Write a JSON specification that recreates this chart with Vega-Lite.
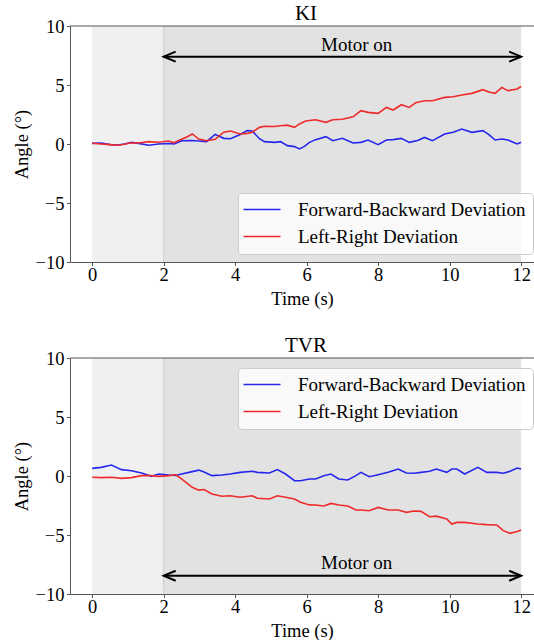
{
  "$schema": "https://vega.github.io/schema/vega-lite/v6.json",
  "background": "white",
  "padding": {"left": 12, "top": 3, "right": 0, "bottom": 0},
  "spacing": 96,
  "bounds": "flush",
  "config": {
    "font": "Liberation Serif",
    "view": {"stroke": null},
    "axis": {
      "grid": false,
      "labelFont": "Liberation Serif",
      "labelFontSize": 18.5,
      "labelColor": "black",
      "titleFont": "Liberation Serif",
      "titleFontSize": 18.5,
      "titleFontWeight": "normal",
      "titleColor": "black",
      "domainColor": "#555555",
      "tickColor": "#555555",
      "tickSize": 3.5
    },
    "legend": {
      "orient": "none",
      "title": null,
      "symbolType": "M-2.2,0H5.2",
      "symbolSize": 100,
      "symbolStrokeWidth": 1.6,
      "symbolFillColor": "transparent",
      "labelFont": "Liberation Serif",
      "labelFontSize": 19,
      "labelColor": "black",
      "labelOffset": 34,
      "labelLimit": 400,
      "rowPadding": 7,
      "padding": 7,
      "fillColor": "rgba(255,255,255,0.8)",
      "strokeColor": "#cccccc",
      "cornerRadius": 4
    },
    "title": {"font": "Liberation Serif", "fontSize": 21, "fontWeight": "normal", "color": "black", "anchor": "middle", "frame": "group", "baseline": "alphabetic", "offset": -7, "dx": 4}
  },
  "datasets": {
    "shadeLight": [{"t": 0, "t2": 2, "v": -10, "v2": 10}],
    "shadeDark": [{"t": 2, "t2": 12, "v": -10, "v2": 10}],
    "spine": [{"t": -0.62, "t2": 12.36, "v": 10}],
    "ki": [
      {"t": 0, "s": "Forward-Backward Deviation", "v": 0.05},
      {"t": 0.25, "s": "Forward-Backward Deviation", "v": 0.08},
      {"t": 0.5, "s": "Forward-Backward Deviation", "v": -0.05},
      {"t": 0.73, "s": "Forward-Backward Deviation", "v": -0.08},
      {"t": 0.9, "s": "Forward-Backward Deviation", "v": 0.0},
      {"t": 1.1, "s": "Forward-Backward Deviation", "v": 0.14},
      {"t": 1.3, "s": "Forward-Backward Deviation", "v": 0.05},
      {"t": 1.58, "s": "Forward-Backward Deviation", "v": -0.1},
      {"t": 1.86, "s": "Forward-Backward Deviation", "v": 0.0},
      {"t": 2.14, "s": "Forward-Backward Deviation", "v": 0.04},
      {"t": 2.3, "s": "Forward-Backward Deviation", "v": 0.0},
      {"t": 2.5, "s": "Forward-Backward Deviation", "v": 0.28},
      {"t": 2.8, "s": "Forward-Backward Deviation", "v": 0.3},
      {"t": 2.98, "s": "Forward-Backward Deviation", "v": 0.25},
      {"t": 3.2, "s": "Forward-Backward Deviation", "v": 0.2},
      {"t": 3.44, "s": "Forward-Backward Deviation", "v": 0.82},
      {"t": 3.68, "s": "Forward-Backward Deviation", "v": 0.48},
      {"t": 3.87, "s": "Forward-Backward Deviation", "v": 0.45},
      {"t": 4.14, "s": "Forward-Backward Deviation", "v": 0.8},
      {"t": 4.34, "s": "Forward-Backward Deviation", "v": 1.13},
      {"t": 4.48, "s": "Forward-Backward Deviation", "v": 1.1},
      {"t": 4.68, "s": "Forward-Backward Deviation", "v": 0.45},
      {"t": 4.82, "s": "Forward-Backward Deviation", "v": 0.2},
      {"t": 5.1, "s": "Forward-Backward Deviation", "v": 0.14},
      {"t": 5.27, "s": "Forward-Backward Deviation", "v": 0.2},
      {"t": 5.46, "s": "Forward-Backward Deviation", "v": -0.14},
      {"t": 5.66, "s": "Forward-Backward Deviation", "v": -0.22},
      {"t": 5.8, "s": "Forward-Backward Deviation", "v": -0.42},
      {"t": 5.94, "s": "Forward-Backward Deviation", "v": -0.2},
      {"t": 6.08, "s": "Forward-Backward Deviation", "v": 0.14},
      {"t": 6.25, "s": "Forward-Backward Deviation", "v": 0.37},
      {"t": 6.54, "s": "Forward-Backward Deviation", "v": 0.62},
      {"t": 6.73, "s": "Forward-Backward Deviation", "v": 0.28},
      {"t": 7.0, "s": "Forward-Backward Deviation", "v": 0.48},
      {"t": 7.3, "s": "Forward-Backward Deviation", "v": 0.08},
      {"t": 7.52, "s": "Forward-Backward Deviation", "v": 0.14},
      {"t": 7.72, "s": "Forward-Backward Deviation", "v": 0.34},
      {"t": 8.0, "s": "Forward-Backward Deviation", "v": -0.06},
      {"t": 8.23, "s": "Forward-Backward Deviation", "v": 0.34},
      {"t": 8.42, "s": "Forward-Backward Deviation", "v": 0.37},
      {"t": 8.65, "s": "Forward-Backward Deviation", "v": 0.48},
      {"t": 8.87, "s": "Forward-Backward Deviation", "v": 0.14},
      {"t": 9.1, "s": "Forward-Backward Deviation", "v": 0.3},
      {"t": 9.3, "s": "Forward-Backward Deviation", "v": 0.56},
      {"t": 9.52, "s": "Forward-Backward Deviation", "v": 0.28},
      {"t": 9.86, "s": "Forward-Backward Deviation", "v": 0.85},
      {"t": 10.1, "s": "Forward-Backward Deviation", "v": 1.0},
      {"t": 10.34, "s": "Forward-Backward Deviation", "v": 1.27},
      {"t": 10.62, "s": "Forward-Backward Deviation", "v": 0.99},
      {"t": 10.93, "s": "Forward-Backward Deviation", "v": 1.13},
      {"t": 11.1, "s": "Forward-Backward Deviation", "v": 0.8},
      {"t": 11.27, "s": "Forward-Backward Deviation", "v": 0.34},
      {"t": 11.46, "s": "Forward-Backward Deviation", "v": 0.42},
      {"t": 11.63, "s": "Forward-Backward Deviation", "v": 0.34},
      {"t": 11.89, "s": "Forward-Backward Deviation", "v": 0.0},
      {"t": 12, "s": "Forward-Backward Deviation", "v": 0.14},
      {"t": 0, "s": "Left-Right Deviation", "v": 0.06},
      {"t": 0.25, "s": "Left-Right Deviation", "v": 0.0},
      {"t": 0.5, "s": "Left-Right Deviation", "v": -0.05},
      {"t": 0.73, "s": "Left-Right Deviation", "v": -0.1},
      {"t": 0.9, "s": "Left-Right Deviation", "v": -0.02},
      {"t": 1.1, "s": "Left-Right Deviation", "v": 0.1},
      {"t": 1.3, "s": "Left-Right Deviation", "v": 0.08},
      {"t": 1.58, "s": "Left-Right Deviation", "v": 0.2},
      {"t": 1.86, "s": "Left-Right Deviation", "v": 0.15},
      {"t": 2.14, "s": "Left-Right Deviation", "v": 0.25},
      {"t": 2.28, "s": "Left-Right Deviation", "v": 0.1},
      {"t": 2.5, "s": "Left-Right Deviation", "v": 0.4},
      {"t": 2.65, "s": "Left-Right Deviation", "v": 0.6},
      {"t": 2.8, "s": "Left-Right Deviation", "v": 0.85},
      {"t": 2.98, "s": "Left-Right Deviation", "v": 0.42},
      {"t": 3.2, "s": "Left-Right Deviation", "v": 0.28},
      {"t": 3.44, "s": "Left-Right Deviation", "v": 0.4},
      {"t": 3.68, "s": "Left-Right Deviation", "v": 1.0},
      {"t": 3.87, "s": "Left-Right Deviation", "v": 1.1},
      {"t": 4.14, "s": "Left-Right Deviation", "v": 0.85},
      {"t": 4.34, "s": "Left-Right Deviation", "v": 0.9},
      {"t": 4.48, "s": "Left-Right Deviation", "v": 1.0},
      {"t": 4.68, "s": "Left-Right Deviation", "v": 1.41},
      {"t": 4.82, "s": "Left-Right Deviation", "v": 1.5},
      {"t": 5.1, "s": "Left-Right Deviation", "v": 1.48},
      {"t": 5.27, "s": "Left-Right Deviation", "v": 1.55},
      {"t": 5.46, "s": "Left-Right Deviation", "v": 1.6},
      {"t": 5.66, "s": "Left-Right Deviation", "v": 1.41},
      {"t": 5.8, "s": "Left-Right Deviation", "v": 1.7},
      {"t": 5.97, "s": "Left-Right Deviation", "v": 1.95},
      {"t": 6.25, "s": "Left-Right Deviation", "v": 2.06},
      {"t": 6.54, "s": "Left-Right Deviation", "v": 1.84},
      {"t": 6.73, "s": "Left-Right Deviation", "v": 2.06},
      {"t": 7.0, "s": "Left-Right Deviation", "v": 2.1},
      {"t": 7.3, "s": "Left-Right Deviation", "v": 2.3},
      {"t": 7.52, "s": "Left-Right Deviation", "v": 2.82},
      {"t": 7.72, "s": "Left-Right Deviation", "v": 2.68},
      {"t": 8.0, "s": "Left-Right Deviation", "v": 2.6},
      {"t": 8.23, "s": "Left-Right Deviation", "v": 3.1},
      {"t": 8.42, "s": "Left-Right Deviation", "v": 2.88},
      {"t": 8.65, "s": "Left-Right Deviation", "v": 3.33},
      {"t": 8.87, "s": "Left-Right Deviation", "v": 3.1},
      {"t": 9.05, "s": "Left-Right Deviation", "v": 3.5},
      {"t": 9.3, "s": "Left-Right Deviation", "v": 3.67},
      {"t": 9.52, "s": "Left-Right Deviation", "v": 3.67},
      {"t": 9.86, "s": "Left-Right Deviation", "v": 3.95},
      {"t": 10.1, "s": "Left-Right Deviation", "v": 4.0},
      {"t": 10.34, "s": "Left-Right Deviation", "v": 4.15},
      {"t": 10.62, "s": "Left-Right Deviation", "v": 4.29},
      {"t": 10.93, "s": "Left-Right Deviation", "v": 4.6},
      {"t": 11.1, "s": "Left-Right Deviation", "v": 4.4},
      {"t": 11.27, "s": "Left-Right Deviation", "v": 4.29},
      {"t": 11.46, "s": "Left-Right Deviation", "v": 4.8},
      {"t": 11.63, "s": "Left-Right Deviation", "v": 4.52},
      {"t": 11.89, "s": "Left-Right Deviation", "v": 4.66},
      {"t": 12, "s": "Left-Right Deviation", "v": 4.89}
    ],
    "tvr": [
      {"t": 0, "s": "Forward-Backward Deviation", "v": 0.65},
      {"t": 0.25, "s": "Forward-Backward Deviation", "v": 0.73},
      {"t": 0.54, "s": "Forward-Backward Deviation", "v": 0.93},
      {"t": 0.82, "s": "Forward-Backward Deviation", "v": 0.54},
      {"t": 1.1, "s": "Forward-Backward Deviation", "v": 0.45},
      {"t": 1.38, "s": "Forward-Backward Deviation", "v": 0.25},
      {"t": 1.66, "s": "Forward-Backward Deviation", "v": -0.03},
      {"t": 1.86, "s": "Forward-Backward Deviation", "v": 0.17},
      {"t": 2.14, "s": "Forward-Backward Deviation", "v": 0.08},
      {"t": 2.34, "s": "Forward-Backward Deviation", "v": 0.05},
      {"t": 2.5, "s": "Forward-Backward Deviation", "v": 0.17},
      {"t": 2.8, "s": "Forward-Backward Deviation", "v": 0.37},
      {"t": 2.98, "s": "Forward-Backward Deviation", "v": 0.5},
      {"t": 3.13, "s": "Forward-Backward Deviation", "v": 0.34},
      {"t": 3.35, "s": "Forward-Backward Deviation", "v": 0.03},
      {"t": 3.63, "s": "Forward-Backward Deviation", "v": 0.08},
      {"t": 3.86, "s": "Forward-Backward Deviation", "v": 0.17},
      {"t": 4.14, "s": "Forward-Backward Deviation", "v": 0.31},
      {"t": 4.48, "s": "Forward-Backward Deviation", "v": 0.4},
      {"t": 4.62, "s": "Forward-Backward Deviation", "v": 0.31},
      {"t": 4.96, "s": "Forward-Backward Deviation", "v": 0.25},
      {"t": 5.18, "s": "Forward-Backward Deviation", "v": 0.54},
      {"t": 5.41, "s": "Forward-Backward Deviation", "v": 0.17},
      {"t": 5.66, "s": "Forward-Backward Deviation", "v": -0.4},
      {"t": 5.83, "s": "Forward-Backward Deviation", "v": -0.4},
      {"t": 6.08, "s": "Forward-Backward Deviation", "v": -0.25},
      {"t": 6.25, "s": "Forward-Backward Deviation", "v": -0.25},
      {"t": 6.48, "s": "Forward-Backward Deviation", "v": 0.03},
      {"t": 6.68, "s": "Forward-Backward Deviation", "v": 0.17},
      {"t": 6.9, "s": "Forward-Backward Deviation", "v": -0.25},
      {"t": 7.15, "s": "Forward-Backward Deviation", "v": -0.34},
      {"t": 7.38, "s": "Forward-Backward Deviation", "v": 0.03},
      {"t": 7.52, "s": "Forward-Backward Deviation", "v": 0.31},
      {"t": 7.75, "s": "Forward-Backward Deviation", "v": -0.06},
      {"t": 8.0, "s": "Forward-Backward Deviation", "v": 0.11},
      {"t": 8.28, "s": "Forward-Backward Deviation", "v": 0.31},
      {"t": 8.56, "s": "Forward-Backward Deviation", "v": 0.59},
      {"t": 8.79, "s": "Forward-Backward Deviation", "v": 0.25},
      {"t": 9.0, "s": "Forward-Backward Deviation", "v": 0.23},
      {"t": 9.2, "s": "Forward-Backward Deviation", "v": 0.31},
      {"t": 9.44, "s": "Forward-Backward Deviation", "v": 0.4},
      {"t": 9.63, "s": "Forward-Backward Deviation", "v": 0.59},
      {"t": 9.92, "s": "Forward-Backward Deviation", "v": 0.31},
      {"t": 10.06, "s": "Forward-Backward Deviation", "v": 0.59},
      {"t": 10.2, "s": "Forward-Backward Deviation", "v": 0.59},
      {"t": 10.42, "s": "Forward-Backward Deviation", "v": 0.17},
      {"t": 10.79, "s": "Forward-Backward Deviation", "v": 0.73},
      {"t": 11.04, "s": "Forward-Backward Deviation", "v": 0.31},
      {"t": 11.32, "s": "Forward-Backward Deviation", "v": 0.31},
      {"t": 11.5, "s": "Forward-Backward Deviation", "v": 0.23},
      {"t": 11.69, "s": "Forward-Backward Deviation", "v": 0.4},
      {"t": 11.89, "s": "Forward-Backward Deviation", "v": 0.68},
      {"t": 12, "s": "Forward-Backward Deviation", "v": 0.59},
      {"t": 0, "s": "Left-Right Deviation", "v": -0.11},
      {"t": 0.25, "s": "Left-Right Deviation", "v": -0.14},
      {"t": 0.54, "s": "Left-Right Deviation", "v": -0.1},
      {"t": 0.82, "s": "Left-Right Deviation", "v": -0.2},
      {"t": 1.1, "s": "Left-Right Deviation", "v": -0.14},
      {"t": 1.38, "s": "Left-Right Deviation", "v": 0.03},
      {"t": 1.66, "s": "Left-Right Deviation", "v": 0.03},
      {"t": 1.86, "s": "Left-Right Deviation", "v": -0.03},
      {"t": 2.14, "s": "Left-Right Deviation", "v": 0.03},
      {"t": 2.34, "s": "Left-Right Deviation", "v": 0.1},
      {"t": 2.5, "s": "Left-Right Deviation", "v": -0.25},
      {"t": 2.8, "s": "Left-Right Deviation", "v": -0.96},
      {"t": 2.98, "s": "Left-Right Deviation", "v": -1.2},
      {"t": 3.13, "s": "Left-Right Deviation", "v": -1.15},
      {"t": 3.35, "s": "Left-Right Deviation", "v": -1.53},
      {"t": 3.63, "s": "Left-Right Deviation", "v": -1.72},
      {"t": 3.86, "s": "Left-Right Deviation", "v": -1.67},
      {"t": 4.14, "s": "Left-Right Deviation", "v": -1.8},
      {"t": 4.48, "s": "Left-Right Deviation", "v": -1.67},
      {"t": 4.62, "s": "Left-Right Deviation", "v": -1.89},
      {"t": 4.96, "s": "Left-Right Deviation", "v": -1.95},
      {"t": 5.18, "s": "Left-Right Deviation", "v": -1.67},
      {"t": 5.41, "s": "Left-Right Deviation", "v": -1.8},
      {"t": 5.66, "s": "Left-Right Deviation", "v": -1.95},
      {"t": 5.83, "s": "Left-Right Deviation", "v": -2.23},
      {"t": 6.08, "s": "Left-Right Deviation", "v": -2.45},
      {"t": 6.25, "s": "Left-Right Deviation", "v": -2.46},
      {"t": 6.48, "s": "Left-Right Deviation", "v": -2.54},
      {"t": 6.68, "s": "Left-Right Deviation", "v": -2.32},
      {"t": 6.9, "s": "Left-Right Deviation", "v": -2.46},
      {"t": 7.15, "s": "Left-Right Deviation", "v": -2.54},
      {"t": 7.38, "s": "Left-Right Deviation", "v": -2.88},
      {"t": 7.52, "s": "Left-Right Deviation", "v": -2.88},
      {"t": 7.75, "s": "Left-Right Deviation", "v": -2.94},
      {"t": 8.0, "s": "Left-Right Deviation", "v": -2.66},
      {"t": 8.28, "s": "Left-Right Deviation", "v": -2.88},
      {"t": 8.56, "s": "Left-Right Deviation", "v": -2.88},
      {"t": 8.79, "s": "Left-Right Deviation", "v": -3.08},
      {"t": 9.0, "s": "Left-Right Deviation", "v": -2.97},
      {"t": 9.2, "s": "Left-Right Deviation", "v": -3.0},
      {"t": 9.44, "s": "Left-Right Deviation", "v": -3.45},
      {"t": 9.63, "s": "Left-Right Deviation", "v": -3.4},
      {"t": 9.92, "s": "Left-Right Deviation", "v": -3.64},
      {"t": 10.06, "s": "Left-Right Deviation", "v": -4.07},
      {"t": 10.2, "s": "Left-Right Deviation", "v": -3.93},
      {"t": 10.42, "s": "Left-Right Deviation", "v": -3.93},
      {"t": 10.79, "s": "Left-Right Deviation", "v": -4.07},
      {"t": 11.04, "s": "Left-Right Deviation", "v": -4.12},
      {"t": 11.32, "s": "Left-Right Deviation", "v": -4.15},
      {"t": 11.5, "s": "Left-Right Deviation", "v": -4.63},
      {"t": 11.69, "s": "Left-Right Deviation", "v": -4.86},
      {"t": 11.89, "s": "Left-Right Deviation", "v": -4.7},
      {"t": 12, "s": "Left-Right Deviation", "v": -4.58}
    ],
    "arrowKI": [{"t": 2, "t2": 12, "v": 7.4}],
    "headsKI": [{"t": 2, "v": 7.4, "d": "L"}, {"t": 12, "v": 7.4, "d": "R"}],
    "labelKI": [{"t": 7.4, "v": 7.9, "label": "Motor on"}],
    "arrowTVR": [{"t": 2, "t2": 12, "v": -8.45}],
    "headsTVR": [{"t": 2, "v": -8.45, "d": "L"}, {"t": 12, "v": -8.45, "d": "R"}],
    "labelTVR": [{"t": 7.4, "v": -7.9, "label": "Motor on"}]
  },
  "resolve": {"legend": {"color": "independent"}},
  "vconcat": [
    {
      "width": 464,
      "height": 236,
      "title": {"text": "KI"},
      "encoding": {
        "x": {"field": "t", "type": "quantitative", "scale": {"domain": [-0.62, 12.36], "nice": false, "zero": false}, "axis": {"values": [0, 2, 4, 6, 8, 10, 12], "title": "Time (s)", "titlePadding": 6, "labelPadding": -0.5, "format": "d", "labelFont": "Liberation Serif"}},
        "y": {"field": "v", "type": "quantitative", "scale": {"domain": [-10, 10], "nice": false, "zero": false}, "axis": {"values": [-10, -5, 0, 5, 10], "title": "Angle (°)", "titlePadding": 4, "labelPadding": 2.5, "format": "d", "labelFont": "Liberation Serif"}}
      },
      "layer": [
        {"data": {"name": "shadeLight"}, "mark": {"type": "rect", "color": "#f0f0f0"}, "encoding": {"x2": {"field": "t2"}, "y2": {"field": "v2"}}},
        {"data": {"name": "shadeDark"}, "mark": {"type": "rect", "color": "#e2e2e2"}, "encoding": {"x2": {"field": "t2"}, "y2": {"field": "v2"}}},
        {"data": {"name": "shadeDark"}, "mark": {"type": "rule", "color": "#cdcdcd", "strokeWidth": 1}, "encoding": {"y2": {"field": "v2"}}},
        {"data": {"name": "ki"}, "mark": {"type": "line", "strokeWidth": 1.6}, "encoding": {"color": {"field": "s", "type": "nominal", "scale": {"domain": ["Forward-Backward Deviation", "Left-Right Deviation"], "range": ["#2626ee", "#ee2a2a"]}, "legend": {"legendX": 168, "legendY": 167}}}},
        {"data": {"name": "arrowKI"}, "mark": {"type": "rule", "color": "black", "strokeWidth": 2}, "encoding": {"x2": {"field": "t2"}}},
        {"data": {"name": "headsKI"}, "mark": {"type": "point", "filled": false, "color": "black", "strokeWidth": 2, "size": 400, "opacity": 1}, "encoding": {"shape": {"field": "d", "type": "nominal", "scale": {"domain": ["L", "R"], "range": ["M1.2,-0.5L0,0L1.2,0.5", "M-1.2,-0.5L0,0L-1.2,0.5"]}, "legend": null}}},
        {"data": {"name": "labelKI"}, "mark": {"type": "text", "font": "Liberation Serif", "fontSize": 19, "align": "center", "baseline": "alphabetic", "color": "black"}, "encoding": {"text": {"field": "label"}}},
        {"data": {"name": "spine"}, "mark": {"type": "rule", "color": "#555555", "strokeWidth": 1}, "encoding": {"x2": {"field": "t2"}}}
      ]
    },
    {
      "width": 464,
      "height": 236,
      "title": {"text": "TVR"},
      "encoding": {
        "x": {"field": "t", "type": "quantitative", "scale": {"domain": [-0.62, 12.36], "nice": false, "zero": false}, "axis": {"values": [0, 2, 4, 6, 8, 10, 12], "title": "Time (s)", "titlePadding": 6, "labelPadding": -0.5, "format": "d", "labelFont": "Liberation Serif"}},
        "y": {"field": "v", "type": "quantitative", "scale": {"domain": [-10, 10], "nice": false, "zero": false}, "axis": {"values": [-10, -5, 0, 5, 10], "title": "Angle (°)", "titlePadding": 4, "labelPadding": 2.5, "format": "d", "labelFont": "Liberation Serif"}}
      },
      "layer": [
        {"data": {"name": "shadeLight"}, "mark": {"type": "rect", "color": "#f0f0f0"}, "encoding": {"x2": {"field": "t2"}, "y2": {"field": "v2"}}},
        {"data": {"name": "shadeDark"}, "mark": {"type": "rect", "color": "#e2e2e2"}, "encoding": {"x2": {"field": "t2"}, "y2": {"field": "v2"}}},
        {"data": {"name": "shadeDark"}, "mark": {"type": "rule", "color": "#cdcdcd", "strokeWidth": 1}, "encoding": {"y2": {"field": "v2"}}},
        {"data": {"name": "tvr"}, "mark": {"type": "line", "strokeWidth": 1.6}, "encoding": {"color": {"field": "s", "type": "nominal", "scale": {"domain": ["Forward-Backward Deviation", "Left-Right Deviation"], "range": ["#2626ee", "#ee2a2a"]}, "legend": {"legendX": 168, "legendY": 10}}}},
        {"data": {"name": "arrowTVR"}, "mark": {"type": "rule", "color": "black", "strokeWidth": 2}, "encoding": {"x2": {"field": "t2"}}},
        {"data": {"name": "headsTVR"}, "mark": {"type": "point", "filled": false, "color": "black", "strokeWidth": 2, "size": 400, "opacity": 1}, "encoding": {"shape": {"field": "d", "type": "nominal", "scale": {"domain": ["L", "R"], "range": ["M1.2,-0.5L0,0L1.2,0.5", "M-1.2,-0.5L0,0L-1.2,0.5"]}, "legend": null}}},
        {"data": {"name": "labelTVR"}, "mark": {"type": "text", "font": "Liberation Serif", "fontSize": 19, "align": "center", "baseline": "alphabetic", "color": "black"}, "encoding": {"text": {"field": "label"}}},
        {"data": {"name": "spine"}, "mark": {"type": "rule", "color": "#555555", "strokeWidth": 1}, "encoding": {"x2": {"field": "t2"}}}
      ]
    }
  ]
}
